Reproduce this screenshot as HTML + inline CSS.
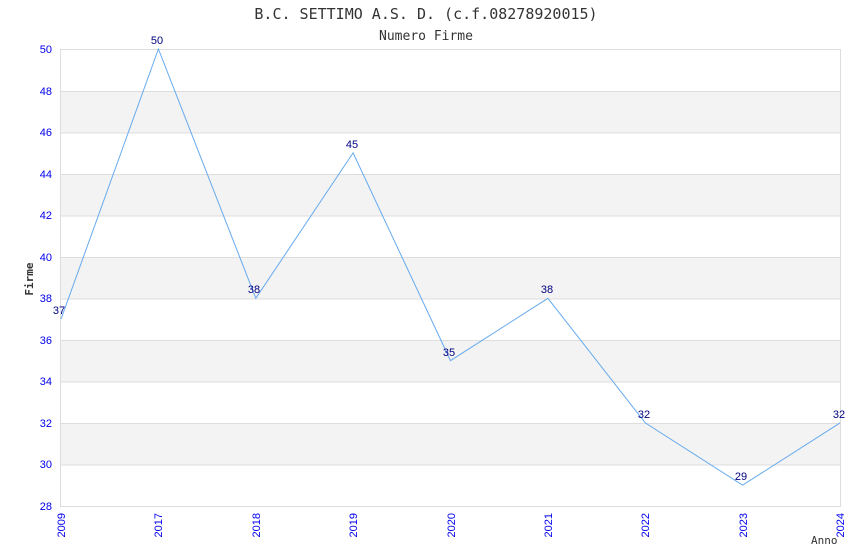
<!DOCTYPE html>
<html><head><meta charset="utf-8"><style>body{margin:0;background:#fff}svg{display:block}</style></head><body>
<svg width="850" height="550" xmlns="http://www.w3.org/2000/svg" font-family="DejaVu Sans Mono, Liberation Mono, monospace">
<rect width="850" height="550" fill="#fff"/>
<g fill="#f3f3f3">
<rect x="61" y="91.5" width="779" height="41.5"/>
<rect x="61" y="174.5" width="779" height="41.5"/>
<rect x="61" y="257.5" width="779" height="41.5"/>
<rect x="61" y="340.5" width="779" height="41.5"/>
<rect x="61" y="423.5" width="779" height="41.5"/>
</g>
<g stroke="#dddddd" stroke-width="1">
<line x1="61" y1="49.5" x2="840" y2="49.5"/>
<line x1="61" y1="91.5" x2="840" y2="91.5"/>
<line x1="61" y1="133" x2="840" y2="133"/>
<line x1="61" y1="174.5" x2="840" y2="174.5"/>
<line x1="61" y1="216" x2="840" y2="216"/>
<line x1="61" y1="257.5" x2="840" y2="257.5"/>
<line x1="61" y1="299" x2="840" y2="299"/>
<line x1="61" y1="340.5" x2="840" y2="340.5"/>
<line x1="61" y1="382" x2="840" y2="382"/>
<line x1="61" y1="423.5" x2="840" y2="423.5"/>
<line x1="61" y1="465" x2="840" y2="465"/>
<line x1="61" y1="506.5" x2="840" y2="506.5"/>
<line x1="60.5" y1="49" x2="60.5" y2="507"/>
<line x1="840.5" y1="49" x2="840.5" y2="507"/>
</g>
<g font-family="Liberation Sans, sans-serif" font-size="11" fill="#0000ee" text-anchor="end">
<text x="52" y="53">50</text><text x="52" y="95">48</text><text x="52" y="136">46</text><text x="52" y="178">44</text><text x="52" y="219">42</text><text x="52" y="261">40</text><text x="52" y="302">38</text><text x="52" y="344">36</text><text x="52" y="385">34</text><text x="52" y="427">32</text><text x="52" y="468">30</text><text x="52" y="510">28</text>
</g>
<g font-family="Liberation Sans, sans-serif" font-size="11" fill="#0000ee" text-anchor="end">
<text transform="translate(65,513) rotate(-90)">2009</text>
<text transform="translate(162,513) rotate(-90)">2017</text>
<text transform="translate(260,513) rotate(-90)">2018</text>
<text transform="translate(357,513) rotate(-90)">2019</text>
<text transform="translate(455,513) rotate(-90)">2020</text>
<text transform="translate(552,513) rotate(-90)">2021</text>
<text transform="translate(649,513) rotate(-90)">2022</text>
<text transform="translate(747,513) rotate(-90)">2023</text>
<text transform="translate(844,513) rotate(-90)">2024</text>
</g>
<polyline fill="none" stroke="#66aaee" stroke-width="1" points="61,319.1 158.4,49 255.8,298.3 353.1,152.9 450.5,360.6 547.9,298.3 645.3,422.9 742.6,485.2 840,422.9"/>
<g font-family="Liberation Sans, sans-serif" font-size="11" fill="#000080" text-anchor="middle">
<text x="59" y="314">37</text><text x="157" y="44">50</text><text x="254" y="293">38</text><text x="352" y="148">45</text><text x="449" y="356">35</text><text x="547" y="293">38</text><text x="644" y="418">32</text><text x="741" y="480">29</text><text x="839" y="418">32</text>
</g>
<text x="426" y="19" text-anchor="middle" font-size="15" fill="#333">B.C. SETTIMO A.S. D. (c.f.08278920015)</text>
<text x="426" y="40" text-anchor="middle" font-size="13" fill="#333">Numero Firme</text>
<text transform="translate(33,279) rotate(-90)" text-anchor="middle" font-size="11" font-weight="bold" fill="#333">Firme</text>
<text x="811" y="544" font-size="11" fill="#333">Anno</text>
</svg>
</body></html>
